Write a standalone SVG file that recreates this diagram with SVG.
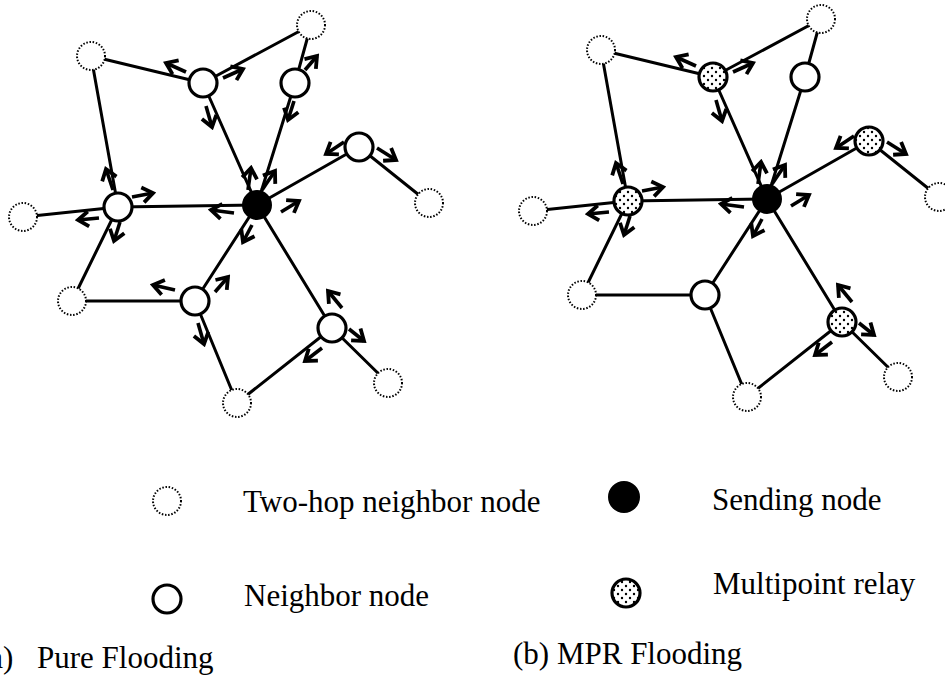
<svg xmlns="http://www.w3.org/2000/svg" width="945" height="686" viewBox="0 0 945 686">
<defs>
<style>
.edge{stroke:#000;stroke-width:3;fill:none;stroke-linecap:round}
.arr{stroke:#000;stroke-width:3.6;fill:none;marker-end:url(#ah)}
.two{fill:#fff;stroke:#000;stroke-width:2;stroke-dasharray:1.5 1.7}
.nb{fill:#fff;stroke:#000;stroke-width:3.2}
.snd{fill:#000;stroke:#000;stroke-width:2}
.mpr{fill:url(#dots);stroke:#000;stroke-width:3.2}
.lbl{font-family:"Liberation Serif","Times New Roman",serif;font-size:31px;fill:#000}
</style>
<marker id="ah" markerUnits="userSpaceOnUse" viewBox="-14 -10 17 20" refX="0" refY="0" markerWidth="17" markerHeight="20" orient="auto">
<path d="M-10.5,-7.5 L0,0 L-10.5,7.5" fill="none" stroke="#000" stroke-width="3.8"/>
</marker>
<pattern id="dots" patternUnits="userSpaceOnUse" width="8" height="8">
<rect width="8" height="8" fill="#fff"/>
<circle cx="2" cy="2" r="1.2" fill="#000"/>
<circle cx="6" cy="6" r="1.2" fill="#000"/>
</pattern>
</defs>
<rect width="945" height="686" fill="#fff"/>

<!-- (a) Pure Flooding -->
<g id="graph-a">
<g id="a-connectors">
<line class="edge" x1="91" y1="56" x2="203" y2="83"/>
<line class="edge" x1="91" y1="56" x2="118" y2="207"/>
<line class="edge" x1="203" y1="83" x2="311" y2="25"/>
<line class="edge" x1="203" y1="83" x2="257" y2="205"/>
<line class="edge" x1="295" y1="83" x2="311" y2="25"/>
<line class="edge" x1="295" y1="83" x2="257" y2="205"/>
<line class="edge" x1="359" y1="147" x2="257" y2="205"/>
<line class="edge" x1="359" y1="147" x2="429" y2="203"/>
<line class="edge" x1="118" y1="207" x2="23" y2="217"/>
<line class="edge" x1="118" y1="207" x2="72" y2="301"/>
<line class="edge" x1="118" y1="207" x2="257" y2="205"/>
<line class="edge" x1="195" y1="301" x2="72" y2="301"/>
<line class="edge" x1="195" y1="301" x2="257" y2="205"/>
<line class="edge" x1="195" y1="301" x2="237" y2="403"/>
<line class="edge" x1="237" y1="403" x2="332" y2="328"/>
<line class="edge" x1="332" y1="328" x2="257" y2="205"/>
<line class="edge" x1="332" y1="328" x2="388" y2="383"/>
</g>
<g id="a-arrows">
<line class="arr" x1="186" y1="72" x2="166" y2="63"/>
<line class="arr" x1="223" y1="78" x2="243" y2="69"/>
<line class="arr" x1="206" y1="106" x2="212" y2="127"/>
<line class="arr" x1="305" y1="70" x2="317" y2="56"/>
<line class="arr" x1="294" y1="101" x2="288" y2="120"/>
<line class="arr" x1="344" y1="142" x2="326" y2="154"/>
<line class="arr" x1="377" y1="148" x2="396" y2="160"/>
<line class="arr" x1="113" y1="190" x2="106" y2="169"/>
<line class="arr" x1="132" y1="197" x2="153" y2="193"/>
<line class="arr" x1="99" y1="218" x2="78" y2="220"/>
<line class="arr" x1="120" y1="222" x2="114" y2="241"/>
<line class="arr" x1="234" y1="213" x2="211" y2="210"/>
<line class="arr" x1="248" y1="190" x2="251" y2="168"/>
<line class="arr" x1="262" y1="190" x2="275" y2="171"/>
<line class="arr" x1="281" y1="212" x2="299" y2="201"/>
<line class="arr" x1="252" y1="225" x2="243" y2="242"/>
<line class="arr" x1="175" y1="290" x2="153" y2="285"/>
<line class="arr" x1="215" y1="292" x2="228" y2="277"/>
<line class="arr" x1="198" y1="323" x2="204" y2="344"/>
<line class="arr" x1="342" y1="308" x2="328" y2="291"/>
<line class="arr" x1="322" y1="348" x2="305" y2="361"/>
<line class="arr" x1="349" y1="329" x2="364" y2="341"/>
</g>
<g id="a-A"><circle class="two" cx="91" cy="56" r="14"/></g>
<g id="a-B"><circle class="two" cx="311" cy="25" r="14"/></g>
<g id="a-C"><circle class="two" cx="429" cy="203" r="14"/></g>
<g id="a-D"><circle class="two" cx="23" cy="217" r="14"/></g>
<g id="a-E"><circle class="two" cx="72" cy="301" r="14"/></g>
<g id="a-F"><circle class="two" cx="237" cy="403" r="14"/></g>
<g id="a-G"><circle class="two" cx="388" cy="383" r="14"/></g>
<g id="a-N1"><circle class="nb" cx="203" cy="83" r="14"/></g>
<g id="a-N2"><circle class="nb" cx="295" cy="83" r="14"/></g>
<g id="a-N3"><circle class="nb" cx="359" cy="147" r="14"/></g>
<g id="a-N4"><circle class="nb" cx="118" cy="207" r="14"/></g>
<g id="a-N5"><circle class="nb" cx="195" cy="301" r="14"/></g>
<g id="a-N6"><circle class="nb" cx="332" cy="328" r="14"/></g>
<g id="a-S"><circle class="snd" cx="257" cy="205" r="14"/></g>
</g>

<!-- (b) MPR Flooding -->
<g id="graph-b" transform="translate(510,-6)">
<g id="b-connectors">
<line class="edge" x1="91" y1="56" x2="203" y2="83"/>
<line class="edge" x1="91" y1="56" x2="118" y2="207"/>
<line class="edge" x1="203" y1="83" x2="311" y2="25"/>
<line class="edge" x1="203" y1="83" x2="257" y2="205"/>
<line class="edge" x1="295" y1="83" x2="311" y2="25"/>
<line class="edge" x1="295" y1="83" x2="257" y2="205"/>
<line class="edge" x1="359" y1="147" x2="257" y2="205"/>
<line class="edge" x1="359" y1="147" x2="429" y2="203"/>
<line class="edge" x1="118" y1="207" x2="23" y2="217"/>
<line class="edge" x1="118" y1="207" x2="72" y2="301"/>
<line class="edge" x1="118" y1="207" x2="257" y2="205"/>
<line class="edge" x1="195" y1="301" x2="72" y2="301"/>
<line class="edge" x1="195" y1="301" x2="257" y2="205"/>
<line class="edge" x1="195" y1="301" x2="237" y2="403"/>
<line class="edge" x1="237" y1="403" x2="332" y2="328"/>
<line class="edge" x1="332" y1="328" x2="257" y2="205"/>
<line class="edge" x1="332" y1="328" x2="388" y2="383"/>
</g>
<g id="b-arrows">
<line class="arr" x1="186" y1="72" x2="166" y2="63"/>
<line class="arr" x1="223" y1="78" x2="243" y2="69"/>
<line class="arr" x1="206" y1="106" x2="212" y2="127"/>
<line class="arr" x1="344" y1="142" x2="326" y2="154"/>
<line class="arr" x1="377" y1="148" x2="396" y2="160"/>
<line class="arr" x1="113" y1="190" x2="106" y2="169"/>
<line class="arr" x1="132" y1="197" x2="153" y2="193"/>
<line class="arr" x1="99" y1="218" x2="78" y2="220"/>
<line class="arr" x1="120" y1="222" x2="114" y2="241"/>
<line class="arr" x1="234" y1="213" x2="211" y2="210"/>
<line class="arr" x1="248" y1="190" x2="251" y2="168"/>
<line class="arr" x1="262" y1="190" x2="275" y2="171"/>
<line class="arr" x1="281" y1="212" x2="299" y2="201"/>
<line class="arr" x1="252" y1="225" x2="243" y2="242"/>
<line class="arr" x1="342" y1="308" x2="328" y2="291"/>
<line class="arr" x1="322" y1="348" x2="305" y2="361"/>
<line class="arr" x1="349" y1="329" x2="364" y2="341"/>
</g>
<g id="b-A"><circle class="two" cx="91" cy="56" r="14"/></g>
<g id="b-B"><circle class="two" cx="311" cy="25" r="14"/></g>
<g id="b-C"><circle class="two" cx="429" cy="203" r="14"/></g>
<g id="b-D"><circle class="two" cx="23" cy="217" r="14"/></g>
<g id="b-E"><circle class="two" cx="72" cy="301" r="14"/></g>
<g id="b-F"><circle class="two" cx="237" cy="403" r="14"/></g>
<g id="b-G"><circle class="two" cx="388" cy="383" r="14"/></g>
<g id="b-N1"><circle class="mpr" cx="203" cy="83" r="14"/></g>
<g id="b-N2"><circle class="nb" cx="295" cy="83" r="14"/></g>
<g id="b-N3"><circle class="mpr" cx="359" cy="147" r="14"/></g>
<g id="b-N4"><circle class="mpr" cx="118" cy="207" r="14"/></g>
<g id="b-N5"><circle class="nb" cx="195" cy="301" r="14"/></g>
<g id="b-N6"><circle class="mpr" cx="332" cy="328" r="14"/></g>
<g id="b-S"><circle class="snd" cx="257" cy="205" r="14"/></g>
</g>

<!-- Legend -->
<g id="legend">
<g id="leg-two"><circle class="two" cx="167" cy="501" r="14"/><text class="lbl" x="243" y="512">Two-hop neighbor node</text></g>
<g id="leg-send"><circle class="snd" cx="624" cy="497" r="15"/><text class="lbl" x="712" y="510">Sending node</text></g>
<g id="leg-nb"><circle class="nb" cx="167" cy="599" r="14"/><text class="lbl" x="244" y="606">Neighbor node</text></g>
<g id="leg-mpr"><circle class="mpr" cx="626" cy="593" r="14"/><text class="lbl" x="713" y="594">Multipoint relay</text></g>
</g>

<g id="captions">
<text class="lbl" y="668"><tspan x="-21">(a)</tspan><tspan x="37">Pure Flooding</tspan></text>
<text class="lbl" x="513" y="664">(b) MPR Flooding</text>
</g>
</svg>
